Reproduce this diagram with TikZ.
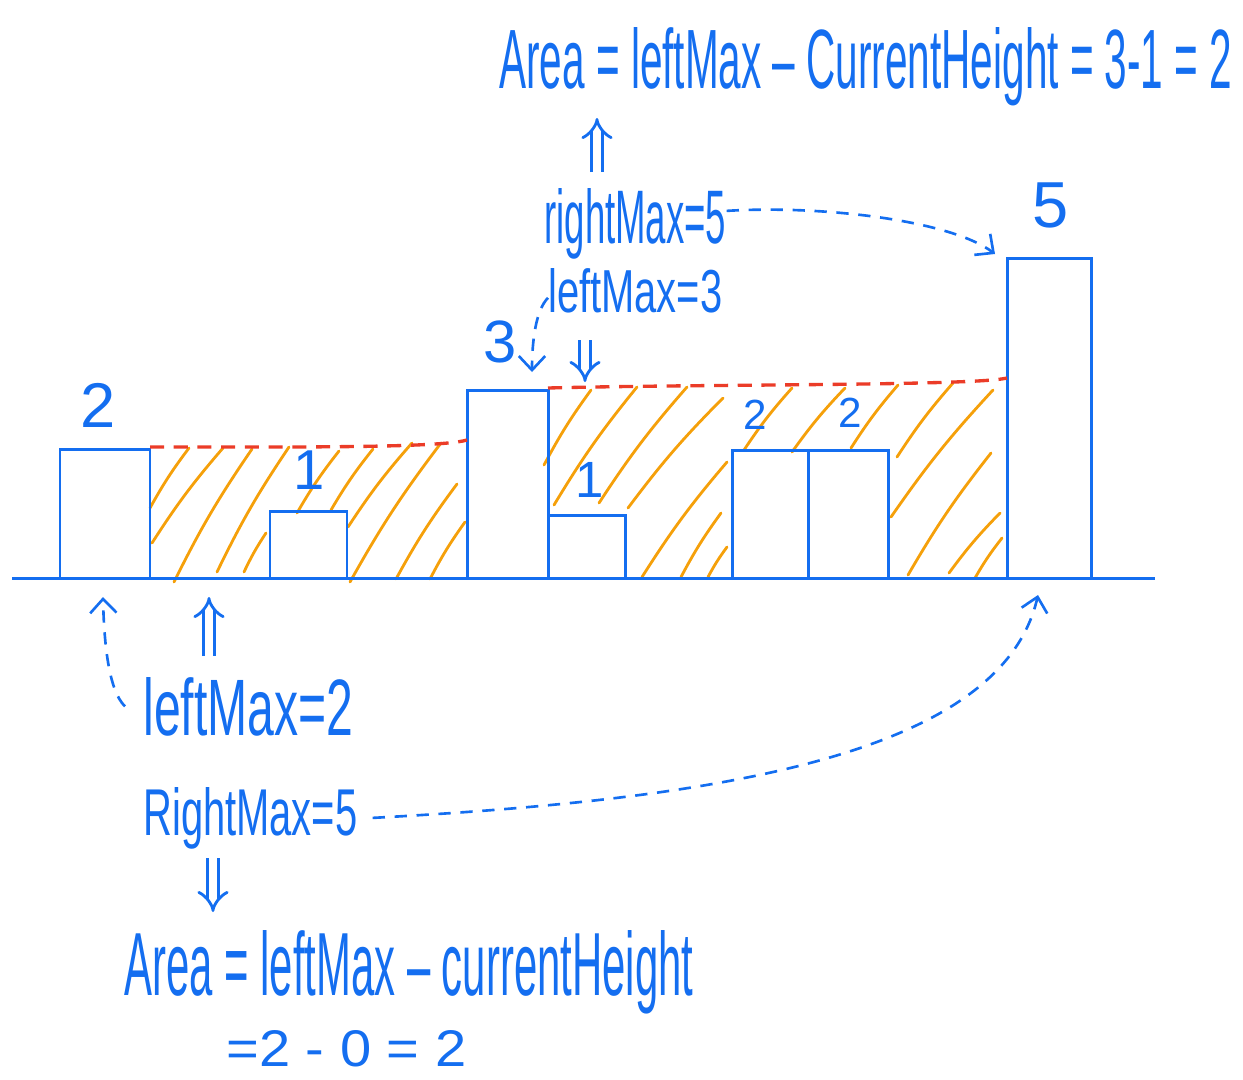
\documentclass[tikz,border=0pt]{standalone}
\usepackage{fontspec}
\setmainfont{Liberation Sans}
\usetikzlibrary{arrows.meta}
\definecolor{penblue}{RGB}{20,110,240}
\definecolor{hatchorange}{RGB}{245,160,10}
\definecolor{levelred}{RGB}{235,60,40}

\begin{document}
\begin{tikzpicture}[x=0.02cm, y=-0.02cm,
  bar/.style={draw=penblue, line width=1.7pt},
  hatch/.style={draw=hatchorange, line width=1.6pt, line cap=round},
  level/.style={draw=levelred, line width=1.9pt, dash pattern=on 8pt off 5.5pt},
  hand/.style={text=penblue, inner sep=0pt, anchor=base west},
  digit/.style={text=penblue, inner sep=0pt, font=\fontsize{#1}{#1}\selectfont},
  hint/.style={draw=penblue, line width=1.5pt, dash pattern=on 7pt off 5.5pt, -{Straight Barb[length=8pt, width=15pt]}},
  imply/.style={draw=penblue, line width=1.6pt, double distance=4.5pt, -Implies}
]
\useasboundingbox (0,0) rectangle (1243,1079);

\foreach \a/\b/\c/\d in {150/508/189/448, 152/543/223/448, 174/582/252/449, 217/572/289/447,
  244/572/266/533, 297/513/339/451, 331/510/373/449, 348/527/412/443, 350/582/441/443,
  396/579/457/484, 430/579/465/522, 544/465/591/390, 554/505/637/387, 599/503/687/387,
  628/508/723/398, 642/577/727/462, 681/577/721/513, 708/577/727/547, 744/450/792/388,
  792/452/845/388, 851/448/898/385, 897/457/953/383, 891/517/993/390, 908/575/991/453,
  949/573/1000/513, 975/578/1002/538}
  \draw[hatch] (\a,\b) to[bend left=4] (\c,\d);

\draw[bar] (12,578) -- (1155,578);
\foreach \l/\r/\t in {60/150/449, 270/347/511, 467/548/390, 548/625/515, 732/808/450, 808/888/450, 1007/1091/258}
  \draw[bar] (\l,578) rectangle (\r,\t);

\draw[level] (150,447) .. controls (300,447) and (440,448) .. (467,440);
\draw[level] (548,388) .. controls (700,384) and (975,386) .. (1007,378);

\node[digit=36] (h1) at (98,405) {2};
\node[digit=32] (h2) at (309,470) {1};
\node[digit=34] (h3) at (500,342) {3};
\node[digit=29] (h4) at (590,480) {1};
\node[digit=24] (h5) at (755,415) {2};
\node[digit=24] (h6) at (850,413) {2};
\node[digit=37] (h7) at (1051,205) {5};

\node[hand] (areatop) at (499,88) {\resizebox{14.66cm}{1.22cm}{Area = leftMax -- CurrentHeight = 3-1 = 2}};
\node[hand] (rmaxtop) at (544,243) {\resizebox{3.64cm}{1.1cm}{rightMax=5}};
\node[hand] (lmaxtop) at (548,312) {\resizebox{3.48cm}{0.88cm}{leftMax=3}};
\node[hand] (lmaxlow) at (143,735) {\resizebox{4.2cm}{1.16cm}{leftMax=2}};
\node[hand] (rmaxlow) at (143,835) {\resizebox{4.28cm}{0.96cm}{RightMax=5}};
\node[hand] (arealow) at (124,995) {\resizebox{11.38cm}{1.3cm}{Area = leftMax -- currentHeight}};
\node[hand] (calclow) at (226,1066) {\resizebox{4.8cm}{0.72cm}{=2 - 0 = 2}};

\draw[imply] (597,172) -- (597,118);
\draw[imply] (585,340) -- (585,382);
\draw[imply] (209,656) -- (209,597);
\draw[imply] (213,858) -- (213,912);

\draw[hint] ([yshift=0.25cm]rmaxtop.east) .. controls (820,205) and (950,220) .. (995,254);
\draw[hint] ([yshift=-0.15cm]lmaxtop.west) .. controls (536,310) and (532,340) .. (532,372);
\draw[hint] ([xshift=-0.36cm]lmaxlow.west) .. controls (108,690) and (104,640) .. (103,597);
\draw[hint] ([xshift=0.3cm]rmaxlow.east) .. controls (700,800) and (1000,760) .. (1038,595);

\end{tikzpicture}
\end{document}
